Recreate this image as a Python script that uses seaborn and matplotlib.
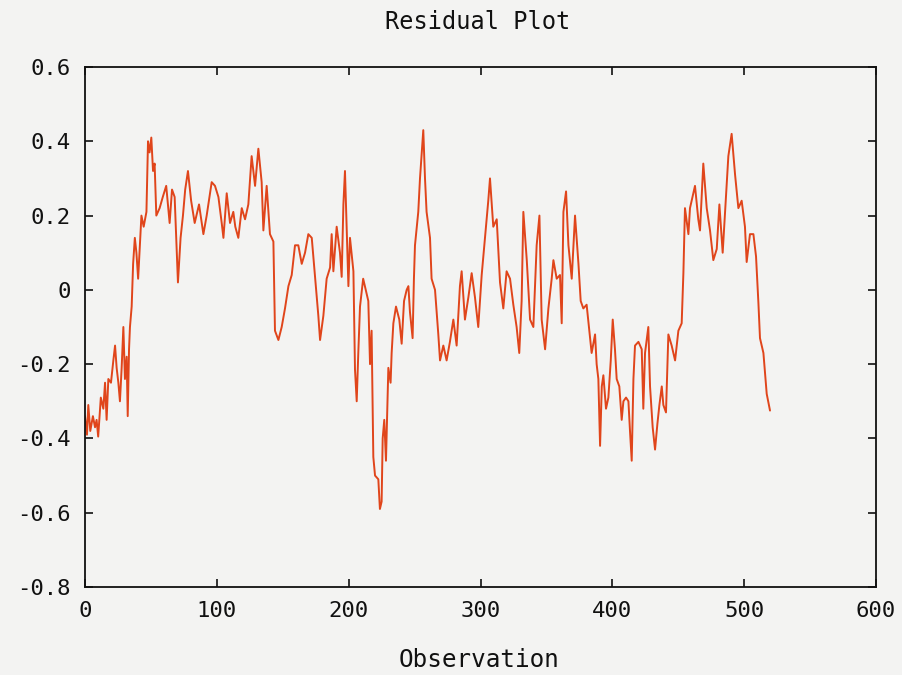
import matplotlib
matplotlib.use("Agg")
import matplotlib.pyplot as plt
import seaborn as sns
import pandas as pd

# Observation index and residual values
obs = [0, 1.5, 2.5, 4, 6, 7.6, 8.8, 10, 12, 13.9, 15.2, 16.4, 17.7, 19.7, 21.5, 22.8, 24,
       25.3, 26.5, 27.8, 29.1, 30.3, 31.6, 32.4, 33.4, 34.1, 35.4, 36.5, 37.8, 39, 40.3,
       42.8, 44.5, 46.6, 47.8, 49, 50.3, 51.6, 52.8, 54.1,
       56.6, 59, 61.6, 64.2, 66, 68, 70.5, 72.5, 74.3, 76, 78.1, 80.5, 83.2, 86.5,
       89.8, 92.3, 94, 96.1, 98.6, 101.2, 103.7, 105, 107.5, 110, 112.5, 114, 116.3, 118.9,
       121.4, 123.9, 126.4, 129, 131.5, 134, 135.3, 137.8, 140.3, 142.9, 144.1, 146.7,
       149.2, 151.7, 154.3, 156.8, 159.3, 161.8, 164.4, 166.9, 169.4, 172, 174.5, 177,
       178.3, 180.8, 183.3, 185.9, 187.1, 188.4, 190.9, 193.4, 194.7, 196, 197.2, 199.8,
       201, 203.6, 204.8, 206.1, 207.3, 208.6, 211, 214.9, 216.2, 217.4, 218.7, 220,
       222.5, 223.7, 225, 225.8, 227, 228.3, 230.1, 231.8, 232.6, 233.9, 235.9, 238.4,
       240.2, 242, 244, 245.3, 246.5, 248.5, 249.5, 250.3, 252.8, 254.1, 256.6, 257.9,
       259.1, 261.7, 262.9, 265.5,
       268, 269.3, 271.8, 274.3, 276.8, 279.4, 281.9, 284.4, 285.7, 288.2, 290.8, 293.3,
       295.8, 298.3, 300.9, 303.4, 305.9, 307.2, 309.7, 312.3, 314.8, 317.3, 319.8, 322.4,
       324.9, 327.4, 329.4, 331.2, 332.5, 335.1, 337.6, 340.1, 342.6, 344.7, 346.4, 349,
       351.5, 354, 355.3, 357.8, 360.3, 361.6, 362.9, 364.9, 366.7, 369.2, 371.7, 374.3,
       376, 378, 380.5, 384.3, 386.9, 388.1, 389.4, 390.7, 392, 393.2, 395.2, 397, 398.8,
       400.3, 402, 403.3, 405.3, 407.1, 408.4, 410.4, 412.2, 413.4, 414.7, 416, 417.2,
       419.8, 422.3, 423.5, 424.8, 427.3, 428.6, 430.6, 432.4, 434.2, 435.7, 437.5, 438.7,
       440.7, 442.5, 445, 447.6, 450.1, 452.6, 453.9, 455.1, 457.7,
       458.9, 462.7, 465.2, 466.5, 469, 471.6, 474.1, 476.6, 479.2, 481.2, 483.7, 486.2,
       488, 490.5, 493.1, 495.6, 498.1, 500.6, 501.9, 504.4, 507, 509, 510.8, 512, 514.6,
       517.1, 519.6]
residual = [-0.34, -0.39, -0.31, -0.38, -0.34, -0.37, -0.35, -0.395, -0.29, -0.32, -0.25,
            -0.35, -0.24, -0.25, -0.19, -0.15, -0.21, -0.25, -0.30, -0.21, -0.10, -0.24,
            -0.18, -0.34, -0.16, -0.10, -0.045, 0.07, 0.14, 0.10, 0.03,
            0.20, 0.17, 0.21, 0.40, 0.37, 0.41, 0.32, 0.34, 0.20,
            0.22, 0.25, 0.28, 0.18, 0.27, 0.25, 0.02, 0.14, 0.20, 0.27, 0.32, 0.24, 0.18, 0.23,
            0.15, 0.20, 0.24, 0.29, 0.28, 0.25, 0.18, 0.14, 0.26, 0.18, 0.21, 0.17, 0.14,
            0.22, 0.19, 0.23, 0.36, 0.28, 0.38, 0.29, 0.16, 0.28, 0.15, 0.13, -0.11, -0.135,
            -0.10, -0.05, 0.01, 0.04, 0.12, 0.12, 0.07, 0.10, 0.15, 0.14, 0.035, -0.07,
            -0.135, -0.07, 0.03, 0.06, 0.15, 0.05, 0.17, 0.10, 0.035, 0.23, 0.32, 0.01,
            0.14, 0.05, -0.215, -0.30, -0.17, -0.045, 0.03, -0.03, -0.20, -0.11, -0.45, -0.50,
            -0.51, -0.59, -0.57, -0.40, -0.35, -0.46, -0.21, -0.25, -0.17, -0.09, -0.045, -0.08,
            -0.145, -0.03, 0.0, 0.01, -0.06, -0.13, 0.03, 0.12, 0.21, 0.30, 0.43, 0.30,
            0.21, 0.14, 0.03, 0.0,
            -0.12, -0.19, -0.15, -0.19, -0.14, -0.08, -0.15, 0.01, 0.05, -0.08, -0.02, 0.045,
            -0.02, -0.10, 0.04, 0.14, 0.24, 0.30, 0.17, 0.19, 0.02, -0.05, 0.05, 0.03,
            -0.04, -0.10, -0.17, -0.03, 0.21, 0.08, -0.08, -0.10, 0.12, 0.20, -0.08, -0.16,
            -0.05, 0.03, 0.08, 0.03, 0.04, -0.09, 0.21, 0.265, 0.12, 0.03, 0.20, 0.07,
            -0.03, -0.05, -0.04, -0.17, -0.12, -0.20, -0.24, -0.42, -0.26, -0.23, -0.32, -0.29,
            -0.19, -0.08, -0.16, -0.24, -0.26, -0.35, -0.30, -0.29, -0.30, -0.38, -0.46, -0.24,
            -0.15, -0.14, -0.16, -0.32, -0.17, -0.10, -0.26, -0.37, -0.43, -0.36, -0.31, -0.26,
            -0.31, -0.33, -0.12, -0.15, -0.19, -0.11, -0.09, 0.045, 0.22, 0.15,
            0.22, 0.28, 0.19, 0.16, 0.34, 0.22, 0.16, 0.08, 0.11, 0.23, 0.10, 0.25,
            0.36, 0.42, 0.31, 0.22, 0.24, 0.17, 0.075, 0.15, 0.15, 0.09, -0.035, -0.13, -0.17,
            -0.28, -0.325]

x_ticks = [0, 100, 200, 300, 400, 500, 600]
y_ticks = [0.6, 0.4, 0.2, 0, -0.2, -0.4, -0.6, -0.8]
y_tick_labels = ["0.6", "0.4", "0.2", "0", "-0.2", "-0.4", "-0.6", "-0.8"]

df = pd.DataFrame({"Observation": obs, "Residual": residual})

sns.set_theme(style="ticks")
plt.rcParams['font.family'] = ['DejaVu Sans Mono', 'DejaVu Sans']

bg = "#f3f3f2"
fig = plt.figure(figsize=(9.02, 6.75), dpi=100, facecolor=bg)
ax = fig.add_axes([85 / 902, 1 - 587 / 675, (876 - 85) / 902, (587 - 67) / 675])
ax.set_facecolor(bg)

sns.lineplot(data=df, x="Observation", y="Residual", ax=ax, color="#e0451b",
             linewidth=1.4, estimator=None, sort=False)

ax.set_xlim(0, 600)
ax.set_ylim(-0.8, 0.6)
ax.set_xticks(x_ticks)
ax.set_xticklabels([str(t) for t in x_ticks])
ax.set_yticks(y_ticks)
ax.set_yticklabels(y_tick_labels)
ax.tick_params(direction="in", length=6, width=1.2, top=True, right=True,
               labelsize=16, colors="#111111", pad=10)
for s in ax.spines.values():
    s.set_linewidth(1.3)
    s.set_color("#111111")
ax.set_xlabel("")
ax.set_ylabel("")

fig.text(478 / 902, 1 - 22 / 675, "Residual Plot", ha="center", va="center",
         fontsize=17, color="#111111")
fig.text(479 / 902, 1 - 660 / 675, "Observation", ha="center", va="center",
         fontsize=17.5, color="#111111")

fig.savefig("out.png", dpi=100, facecolor=bg)
